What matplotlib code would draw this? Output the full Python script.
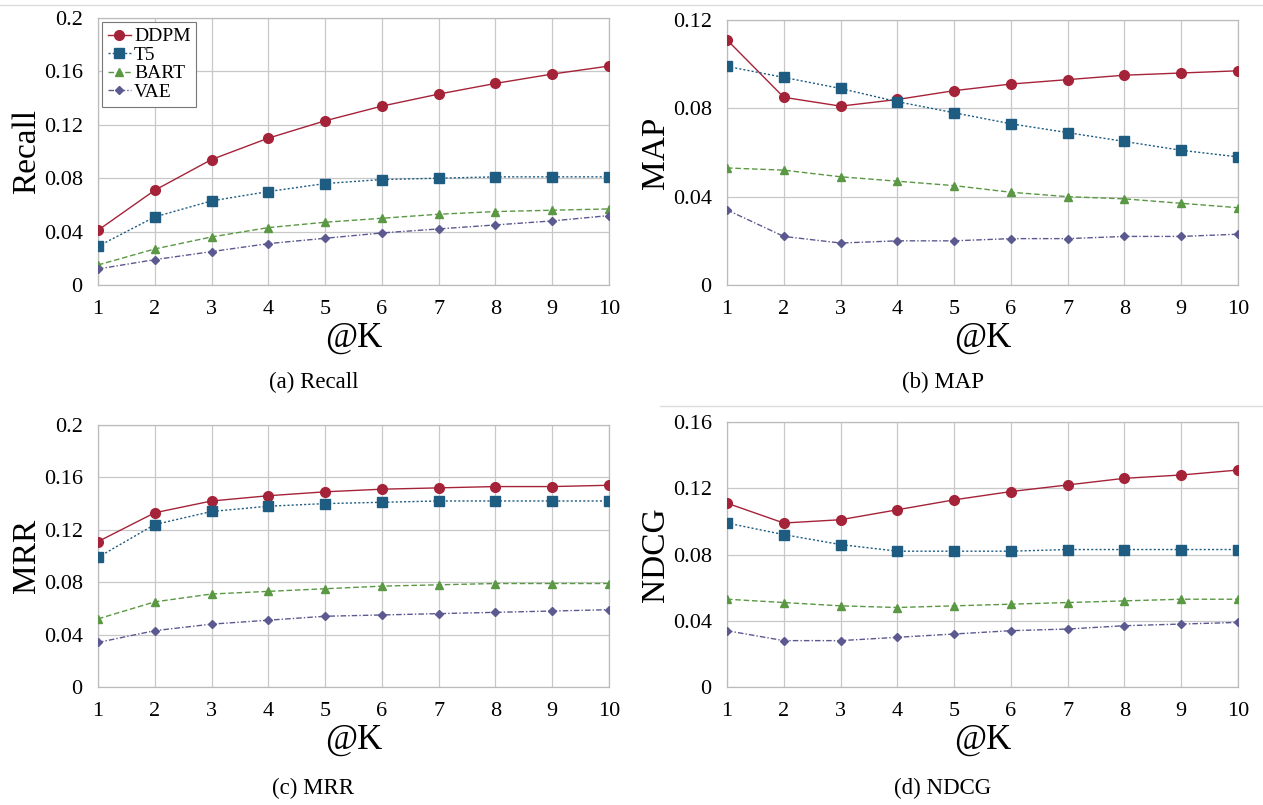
import matplotlib
matplotlib.use("Agg")
import matplotlib.pyplot as plt
import numpy as np

plt.rcParams['font.family'] = ['Liberation Serif', 'DejaVu Serif']

k = [1, 2, 3, 4, 5, 6, 7, 8, 9, 10]
models = ["DDPM", "T5", "BART", "VAE"]

recall_ddpm = [0.041, 0.071, 0.094, 0.110, 0.123, 0.134, 0.143, 0.151, 0.158, 0.164]
recall_t5 = [0.029, 0.051, 0.063, 0.070, 0.076, 0.079, 0.080, 0.081, 0.081, 0.081]
recall_bart = [0.015, 0.027, 0.036, 0.043, 0.047, 0.050, 0.053, 0.055, 0.056, 0.057]
recall_vae = [0.012, 0.019, 0.025, 0.031, 0.035, 0.039, 0.042, 0.045, 0.048, 0.052]

map_ddpm = [0.111, 0.085, 0.081, 0.084, 0.088, 0.091, 0.093, 0.095, 0.096, 0.097]
map_t5 = [0.099, 0.094, 0.089, 0.083, 0.078, 0.073, 0.069, 0.065, 0.061, 0.058]
map_bart = [0.053, 0.052, 0.049, 0.047, 0.045, 0.042, 0.040, 0.039, 0.037, 0.035]
map_vae = [0.034, 0.022, 0.019, 0.020, 0.020, 0.021, 0.021, 0.022, 0.022, 0.023]

mrr_ddpm = [0.111, 0.133, 0.142, 0.146, 0.149, 0.151, 0.152, 0.153, 0.153, 0.154]
mrr_t5 = [0.099, 0.124, 0.134, 0.138, 0.140, 0.141, 0.142, 0.142, 0.142, 0.142]
mrr_bart = [0.052, 0.065, 0.071, 0.073, 0.075, 0.077, 0.078, 0.079, 0.079, 0.079]
mrr_vae = [0.034, 0.043, 0.048, 0.051, 0.054, 0.055, 0.056, 0.057, 0.058, 0.059]

ndcg_ddpm = [0.111, 0.099, 0.101, 0.107, 0.113, 0.118, 0.122, 0.126, 0.128, 0.131]
ndcg_t5 = [0.099, 0.092, 0.086, 0.082, 0.082, 0.082, 0.083, 0.083, 0.083, 0.083]
ndcg_bart = [0.053, 0.051, 0.049, 0.048, 0.049, 0.050, 0.051, 0.052, 0.053, 0.053]
ndcg_vae = [0.034, 0.028, 0.028, 0.030, 0.032, 0.034, 0.035, 0.037, 0.038, 0.039]

yticks_a = [0, 0.04, 0.08, 0.12, 0.16, 0.2]
yticks_b = [0, 0.04, 0.08, 0.12]
yticks_d = [0, 0.04, 0.08, 0.12, 0.16]

colors = ["#A52339", "#1E5C82", "#5A9844", "#5B5990"]
markers = ["o", "s", "^", "D"]
msizes = [7, 6.5, 6, 4.5]
styles = ["-", (0, (1.5, 1.5)), (0, (4, 2)), (0, (4, 1.5, 1, 1.5))]

W, H = 1263, 805
fig = plt.figure(figsize=(W / 100, H / 100), dpi=100)

def px_axes(x0, x1, ytop, ybot):
    return fig.add_axes([x0 / W, 1 - ybot / H, (x1 - x0) / W, (ybot - ytop) / H])

panels = [
    ((98, 609, 18, 285), [recall_ddpm, recall_t5, recall_bart, recall_vae], yticks_a, "Recall", "(a) Recall", 382),
    ((727, 1238, 20, 285), [map_ddpm, map_t5, map_bart, map_vae], yticks_b, "MAP", "(b) MAP", 382),
    ((98, 609, 425, 687), [mrr_ddpm, mrr_t5, mrr_bart, mrr_vae], yticks_a, "MRR", "(c) MRR", 788),
    ((727, 1238, 422, 687), [ndcg_ddpm, ndcg_t5, ndcg_bart, ndcg_vae], yticks_d, "NDCG", "(d) NDCG", 788),
]

for i, (box, series, yt, ylab, cap, capy) in enumerate(panels):
    ax = px_axes(*box)
    for j, vals in enumerate(series):
        ax.plot(k, vals, color=colors[j], linestyle=styles[j], linewidth=1.0,
                marker=markers[j], markersize=msizes[j], label=models[j], zorder=3)
    ax.set_xlim(1, 10)
    ax.set_ylim(yt[0], yt[-1])
    ax.set_xticks(k)
    ax.set_yticks(yt)
    ax.set_yticklabels(["0" if v == 0 else ("%g" % v) for v in yt])
    ax.grid(True, color="#C8C8C8", linewidth=0.9)
    ax.set_axisbelow(True)
    for s in ax.spines.values():
        s.set_color("#BBBBBB")
        s.set_linewidth(0.9)
    ax.tick_params(length=0, labelsize=16, pad=11)
    ax.tick_params(axis="y", pad=11)
    ax.set_ylabel(ylab, fontsize=24, labelpad=1)
    ax.set_xlabel("@K", fontsize=25, labelpad=2)
    cx = (box[0] + box[1]) / 2 - 40
    fig.text(cx / W, 1 - capy / H, cap, ha="center", va="center", fontsize=16.5)
    if i == 0:
        leg = ax.legend(loc="upper left", fontsize=14, handlelength=1.2, handletextpad=0.15,
                        borderpad=0.3, labelspacing=0.05, fancybox=False, framealpha=1,
                        bbox_to_anchor=(0.0, 1.0), borderaxespad=0.2)
        leg.get_frame().set_edgecolor("#777777")
        leg.get_frame().set_linewidth(0.8)

# thin separator lines seen in the source image
fig.add_artist(plt.Line2D([0.0, 1.0], [1 - 5 / H, 1 - 5 / H], color="#DDDDDD", linewidth=1))
fig.add_artist(plt.Line2D([660 / W, 1.0], [1 - 406 / H, 1 - 406 / H], color="#DDDDDD", linewidth=1))

fig.savefig("out.png", dpi=100)
